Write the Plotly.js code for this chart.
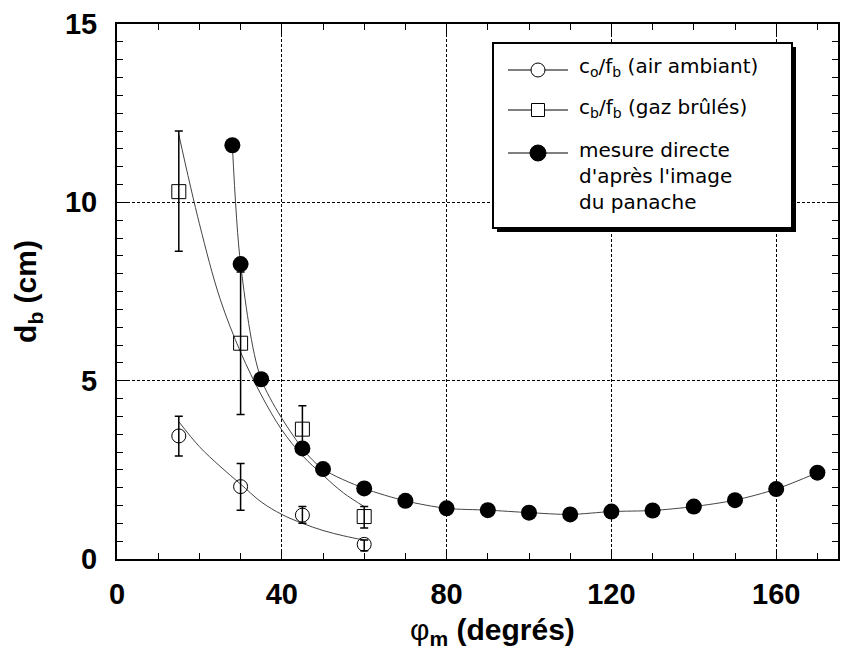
<!DOCTYPE html>
<html><head><meta charset="utf-8">
<script src="https://cdn.plot.ly/plotly-3.0.1.min.js"></script>
<style>body{margin:0;background:#fff}</style>
</head><body><div id="chart" style="width:850px;height:650px"></div>
<script>
// Data
const airX = [15, 30, 45, 60];
const airY = [3.45, 2.03, 1.23, 0.41];
const airErrPlus = [0.55, 0.65, 0.24, 0.12];
const airErrMinus = [0.56, 0.66, 0.23, 0.18];

const gazX = [15, 30, 45, 60];
const gazY = [10.3, 6.05, 3.64, 1.19];
const gazErrPlus = [1.7, 2.0, 0.66, 0.28];
const gazErrMinus = [1.67, 2.0, 0.6, 0.32];

const directX = [28, 30, 35, 45, 50, 60, 70, 80, 90, 100, 110, 120, 130, 140, 150, 160, 170];
const directY = [11.6, 8.27, 5.04, 3.1, 2.52, 1.98, 1.63, 1.42, 1.37, 1.3, 1.25, 1.33, 1.36, 1.47, 1.65, 1.96, 2.42];

// fitted curves
const fitX = [15, 20, 25, 30, 35, 40, 45, 50, 55, 60];
const airFitY = [3.85, 3.15, 2.6, 2.1, 1.6, 1.25, 1.0, 0.8, 0.65, 0.53];
const gazFitY = [11.9, 9.4, 7.3, 5.8, 4.6, 3.62, 2.9, 2.35, 1.85, 1.47];

const legendLabels = [
  "c<sub>o</sub>/f<sub>b</sub> (air ambiant)",
  "c<sub>b</sub>/f<sub>b</sub> (gaz brûlés)",
  "mesure directe<br>d'après l'image<br>du panache"
];
const xTitle = "<span style='font-weight:normal'>φ</span><sub>m</sub> (degrés)";
const yTitle = "d<sub>b</sub> (cm)";

const FONT = "Liberation Sans, Arial, Helvetica, sans-serif";
const LFONT = "DejaVu Sans, Liberation Sans, Arial, sans-serif";
const lineCol = "#444";

// plot-area geometry (pixels) used to place the hand-drawn legend box
const M = {l:117, r:12, t:24, b:91, W:850, H:650};
const PW = M.W - M.l - M.r, PH = M.H - M.t - M.b;
const px = x => (x - M.l) / PW;
const py = y => (M.H - M.b - y) / PH;

const traces = [
  {x:fitX, y:airFitY, mode:"lines", line:{color:lineCol, width:1, shape:"spline"}},
  {x:fitX, y:gazFitY, mode:"lines", line:{color:lineCol, width:1, shape:"spline"}},
  {x:directX, y:directY, mode:"lines+markers",
   line:{color:lineCol, width:1, shape:"spline", smoothing:0.8},
   marker:{symbol:"circle", size:16, color:"#000"}},
  {x:airX, y:airY, mode:"markers",
   marker:{symbol:"circle-open", size:14, color:"#000", line:{width:1}},
   error_y:{type:"data", symmetric:false, array:airErrPlus, arrayminus:airErrMinus, color:"#000", thickness:1.5, width:4}},
  {x:gazX, y:gazY, mode:"markers",
   marker:{symbol:"square-open", size:14, color:"#000", line:{width:1}},
   error_y:{type:"data", symmetric:false, array:gazErrPlus, arrayminus:gazErrMinus, color:"#000", thickness:1.5, width:4}}
];

// legend built from shapes + annotations
const box = {x0:493, x1:792, y0:43, y1:228};
const rowY = [70, 110, 153];
const shapes = [
  {type:"rect", xref:"paper", yref:"paper", x0:px(box.x0+4), x1:px(box.x1+4), y0:py(box.y1+4), y1:py(box.y0+4),
   fillcolor:"#000", line:{width:0}, layer:"above"},
  {type:"rect", xref:"paper", yref:"paper", x0:px(box.x0), x1:px(box.x1), y0:py(box.y1), y1:py(box.y0),
   fillcolor:"#fff", line:{color:"#000", width:2}, layer:"above"}
];
rowY.forEach(y => shapes.push({type:"line", xref:"paper", yref:"paper", x0:px(508), x1:px(568), y0:py(y), y1:py(y),
  line:{color:"#000", width:1}, layer:"above"}));
shapes.push({type:"circle", xref:"paper", yref:"paper", xsizemode:"pixel", ysizemode:"pixel",
  xanchor:px(538), yanchor:py(rowY[0]), x0:-7, x1:7, y0:-7, y1:7, fillcolor:"#fff", line:{color:"#000", width:1}, layer:"above"});
shapes.push({type:"rect", xref:"paper", yref:"paper", xsizemode:"pixel", ysizemode:"pixel",
  xanchor:px(538), yanchor:py(rowY[1]), x0:-6.5, x1:6.5, y0:-6.5, y1:6.5, fillcolor:"#fff", line:{color:"#000", width:1}, layer:"above"});
shapes.push({type:"circle", xref:"paper", yref:"paper", xsizemode:"pixel", ysizemode:"pixel",
  xanchor:px(538), yanchor:py(rowY[2]), x0:-8, x1:8, y0:-8, y1:8, fillcolor:"#000", line:{color:"#000", width:1}, layer:"above"});

const LF = {family:LFONT, size:20, color:"#000"};
const annLeft = 577;
const annotations = [
  {xref:"paper", yref:"paper", x:px(annLeft), y:py(67), xanchor:"left", yanchor:"middle", showarrow:false, text:legendLabels[0], font:LF},
  {xref:"paper", yref:"paper", x:px(annLeft), y:py(108), xanchor:"left", yanchor:"middle", showarrow:false, text:legendLabels[1], font:LF},
  {xref:"paper", yref:"paper", x:px(annLeft), y:py(176), xanchor:"left", yanchor:"middle", align:"left", showarrow:false, text:legendLabels[2], font:LF},
  // x-axis title
  {xref:"paper", yref:"paper", x:px(492), y:py(631), xanchor:"center", yanchor:"middle", showarrow:false, text:xTitle,
   font:{family:FONT, size:30, weight:"bold", color:"#000"}}
];

const layout = {
  width:M.W, height:M.H,
  margin:{l:M.l, r:M.r, t:M.t, b:M.b},
  paper_bgcolor:"#fff", plot_bgcolor:"#fff",
  font:{family:FONT, color:"#000"},
  showlegend:false,
  shapes:shapes, annotations:annotations,
  xaxis:{range:[0,175], dtick:40, tick0:0,
    showline:true, linecolor:"#000", linewidth:2, mirror:"ticks",
    ticks:"inside", ticklen:10, tickwidth:1, tickcolor:"#000",
    showgrid:true, gridcolor:"#000", gridwidth:1, griddash:"3px,2px",
    zeroline:false, ticklabelstandoff:8,
    tickfont:{family:FONT, size:29, weight:"bold"},
    minor:{dtick:10, ticks:"inside", ticklen:6, tickcolor:"#000", showgrid:false}},
  yaxis:{range:[0,15], dtick:5, tick0:0,
    showline:true, linecolor:"#000", linewidth:2, mirror:"ticks",
    ticks:"inside", ticklen:10, tickwidth:1, tickcolor:"#000",
    showgrid:true, gridcolor:"#000", gridwidth:1, griddash:"3px,2px",
    zeroline:false, ticklabelstandoff:12,
    tickfont:{family:FONT, size:29, weight:"bold"},
    minor:{dtick:0.5, ticks:"inside", ticklen:6, tickcolor:"#000", showgrid:false},
    title:{text:yTitle, font:{family:FONT, size:30, weight:"bold"}, standoff:19}}
};

Plotly.newPlot("chart", traces, layout, {displayModeBar:false, staticPlot:true});
</script></body></html>
